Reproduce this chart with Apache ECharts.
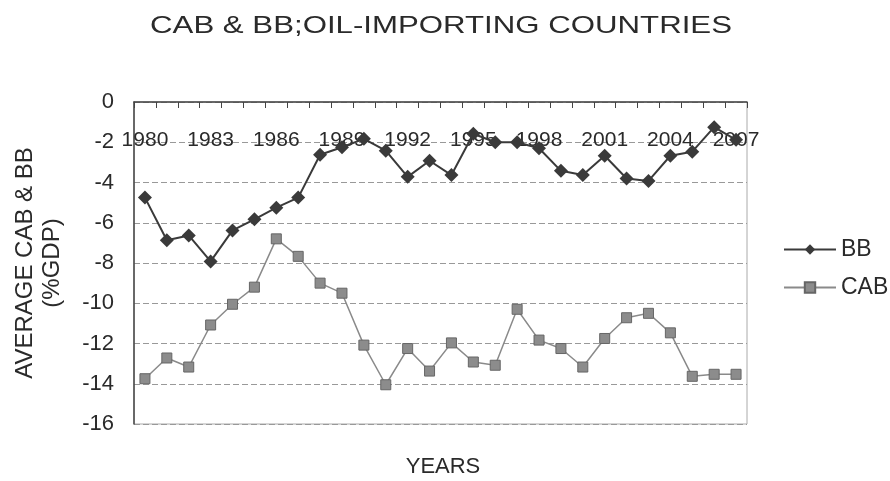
<!DOCTYPE html>
<html>
<head>
<meta charset="utf-8">
<script src="https://cdn.jsdelivr.net/npm/echarts@6/dist/echarts.min.js"></script>
<style>html,body{margin:0;padding:0;background:#fff;}#c{width:890px;height:481px;}</style>
</head>
<body>
<div id="c"></div>
<script>
const years = ['1980','1981','1982','1983','1984','1985','1986','1987','1988','1989','1990','1991','1992','1993','1994','1995','1996','1997','1998','1999','2000','2001','2002','2003','2004','2005','2006','2007'];
const bb = [-4.75,-6.87,-6.63,-7.92,-6.38,-5.83,-5.25,-4.75,-2.62,-2.25,-1.83,-2.42,-3.72,-2.92,-3.63,-1.58,-2.0,-2.0,-2.3,-3.42,-3.63,-2.67,-3.8,-3.92,-2.67,-2.47,-1.25,-1.88];
const cab = [-13.75,-12.72,-13.17,-11.08,-10.05,-9.2,-6.8,-7.67,-9.0,-9.5,-12.08,-14.05,-12.25,-13.37,-11.97,-12.92,-13.08,-10.3,-11.83,-12.25,-13.17,-11.75,-10.72,-10.5,-11.47,-13.63,-13.53,-13.53];
const titleText = 'CAB & BB;OIL-IMPORTING COUNTRIES';
const xName = 'YEARS';
const yName = 'AVERAGE CAB & BB\n(%GDP)';

const FONT = 'Liberation Sans, Arial, sans-serif';
const chart = echarts.init(document.getElementById('c'), null, {renderer: 'canvas'});
chart.setOption({
  backgroundColor: '#fff',
  animation: false,
  graphic: [
    {type: 'text', x: 441, y: 26, scaleX: 1.3,
     style: {text: titleText, fontFamily: FONT, fontSize: 24, fill: '#2a2a2a', align: 'center', verticalAlign: 'middle'}},
    {type: 'text', x: 443, y: 467,
     style: {text: xName, fontFamily: FONT, fontSize: 22, fill: '#2a2a2a', align: 'center', verticalAlign: 'middle'}}
  ],
  legend: {
    orient: 'vertical', left: 778, top: 233, itemWidth: 52, itemHeight: 13, itemGap: 15,
    textStyle: {fontFamily: FONT, fontSize: 23, color: '#2a2a2a'},
    data: ['BB', 'CAB']
  },
  grid: {left: 134, right: 143, top: 102, bottom: 57, containLabel: false,
         show: true, borderColor: '#aaa', borderWidth: 1},
  xAxis: {
    type: 'category', data: years, boundaryGap: true, position: 'top',
    axisLine: {onZero: false, lineStyle: {color: '#444', width: 1.5}},
    axisTick: {show: true, inside: true, interval: 0, length: 6, lineStyle: {color: '#444'}},
    axisLabel: {inside: true, interval: 2, margin: 28, fontFamily: FONT, fontSize: 21, color: '#2a2a2a'},
    splitLine: {show: false}
  },
  yAxis: {
    type: 'value', min: -16, max: 0, interval: 2,
    name: yName, nameLocation: 'middle', nameRotate: 90, nameGap: 68,
    nameTextStyle: {fontFamily: FONT, fontSize: 24, color: '#2a2a2a', lineHeight: 27, align: 'center'},
    axisLine: {show: true, lineStyle: {color: '#444', width: 1.5}},
    axisTick: {show: false},
    axisLabel: {margin: 20, fontFamily: FONT, fontSize: 22, color: '#2a2a2a'},
    splitLine: {show: true, lineStyle: {color: '#999', type: [6, 3], width: 1}}
  },
  series: [
    {name: 'BB', type: 'line', data: bb, symbol: 'diamond', symbolSize: 14,
     lineStyle: {color: '#3a3a3a', width: 2}, itemStyle: {color: '#3a3a3a'}},
    {name: 'CAB', type: 'line', data: cab, symbol: 'rect', symbolSize: 10,
     lineStyle: {color: '#8a8a8a', width: 1.5}, itemStyle: {color: '#8c8c8c', borderColor: '#666', borderWidth: 1}}
  ]
});
</script>
</body>
</html>
